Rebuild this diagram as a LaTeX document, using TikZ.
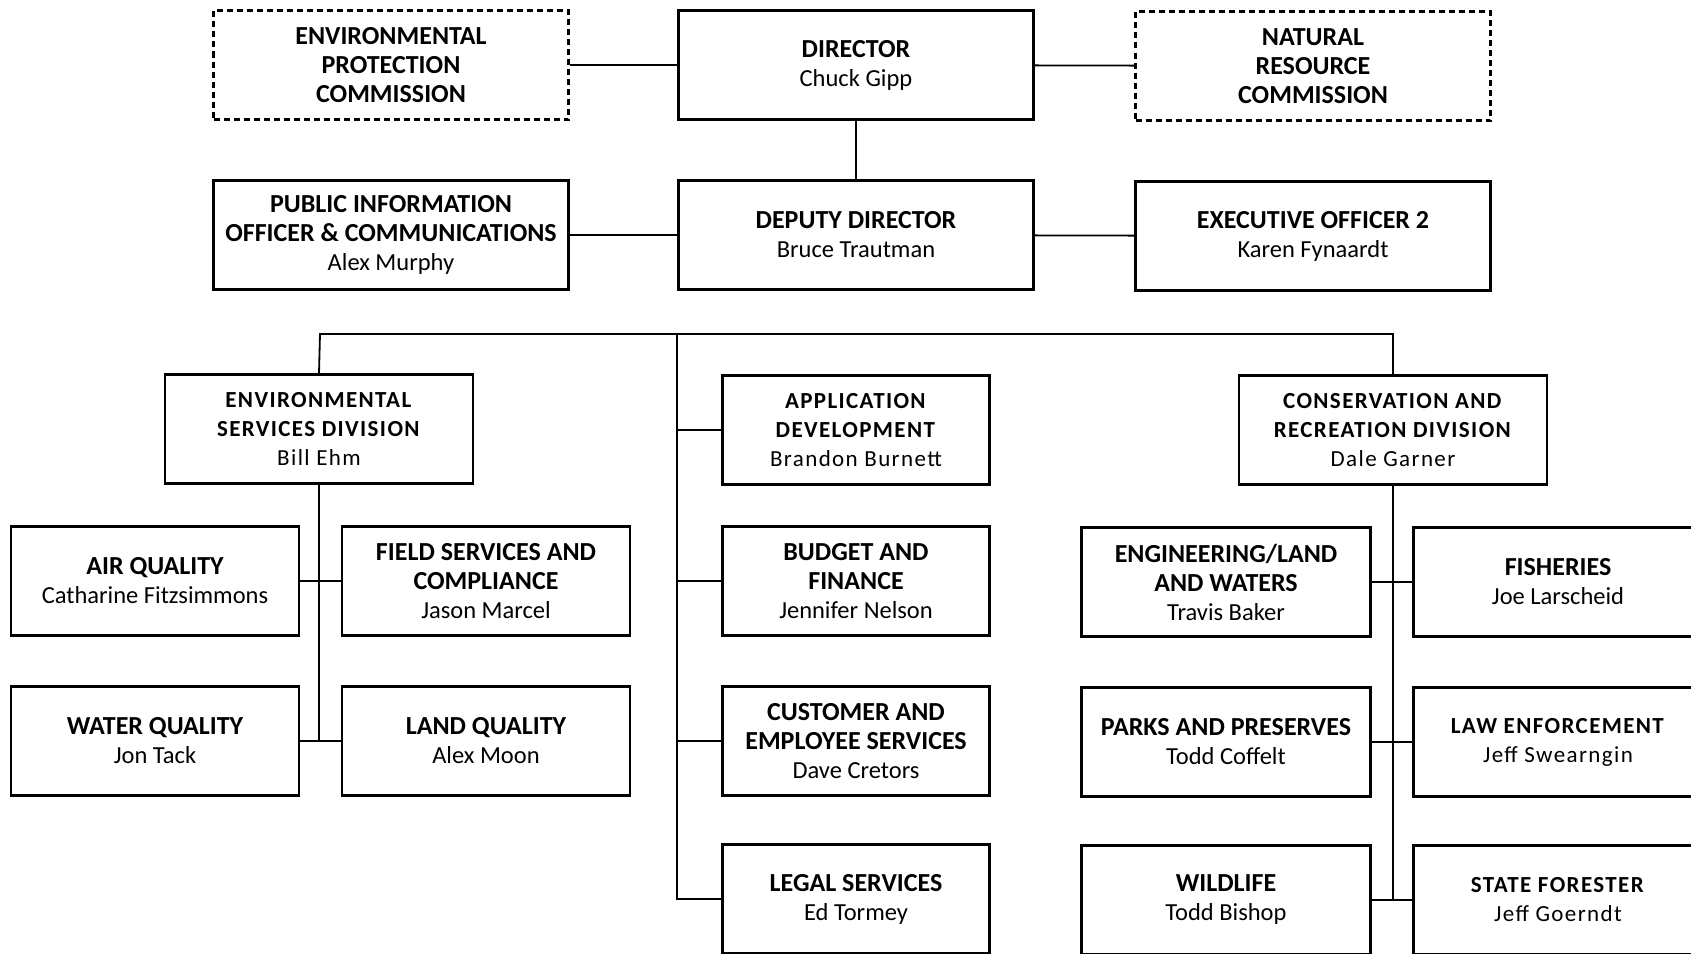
\documentclass[tikz,border=0pt]{standalone}
\usepackage{fontspec}
\setmainfont{Carlito}
\newfontfamily\widefont[LetterSpace=6]{Carlito}
\newcommand\hd[1]{{\fontsize{26}{29}\selectfont\bfseries #1}}

\tikzset{
  box/.style={draw, line width=2.5pt, minimum width=#1, minimum height=109pt,
    inner sep=0pt, align=center, font=\fontsize{24.5}{29}\selectfont},
  box/.default=355pt,
  dbox/.style={box, dash pattern=on 6pt off 4pt},
  widebox/.style={box=#1, font=\fontsize{23}{29}\selectfont\widefont},
  link/.style={line width=1.8pt},
}

\begin{document}
\begin{tikzpicture}[x=1pt,y=-1pt]
	\clip (0,0) rectangle (1691,953);
	\useasboundingbox (0,0) rectangle (1691,953);
	% top level
	\node[dbox] (epc) at (391,65) {\hd{ENVIRONMENTAL}\\\hd{PROTECTION}\\\hd{COMMISSION}};
	\node[box] (dir) at (856,65) {\hd{DIRECTOR}\\Chuck Gipp};
	\node[dbox] (nrc) at (1313,66) {\hd{NATURAL}\\\hd{RESOURCE}\\\hd{COMMISSION}};
	\node[box] (pio) at (391,235) {\hd{PUBLIC INFORMATION}\\\hd{OFFICER \& COMMUNICATIONS}\\Alex Murphy};
	\node[box] (dep) at (856,235) {\hd{DEPUTY DIRECTOR}\\Bruce Trautman};
	\node[box] (eo) at (1313,236) {\hd{EXECUTIVE OFFICER 2}\\Karen Fynaardt};
	% divisions
	\node[widebox=308pt] (esd) at (319,429) {\textbf{ENVIRONMENTAL}\\\textbf{SERVICES DIVISION}\\Bill Ehm};
	\node[widebox=267pt] (app) at (856,430) {\textbf{APPLICATION}\\\textbf{DEVELOPMENT}\\Brandon Burnett};
	\node[widebox=308pt] (crd) at (1393,430) {\textbf{CONSERVATION AND}\\\textbf{RECREATION DIVISION}\\Dale Garner};
	% environmental services
	\node[box=288pt] (air) at (155,581) {\hd{AIR QUALITY}\\Catharine Fitzsimmons};
	\node[box=288pt] (field) at (486,581) {\hd{FIELD SERVICES AND}\\\hd{COMPLIANCE}\\Jason Marcel};
	\node[box=288pt] (water) at (155,741) {\hd{WATER QUALITY}\\Jon Tack};
	\node[box=288pt] (land) at (486,741) {\hd{LAND QUALITY}\\Alex Moon};
	% staff
	\node[box=267pt] (budget) at (856,581) {\hd{BUDGET AND}\\\hd{FINANCE}\\Jennifer Nelson};
	\node[box=267pt] (cust) at (856,741) {\hd{CUSTOMER AND}\\\hd{EMPLOYEE SERVICES}\\Dave Cretors};
	\node[box=267pt] (legal) at (856,899) {\hd{LEGAL SERVICES}\\Ed Tormey};
	% conservation and recreation
	\node[box=289pt] (eng) at (1226,582) {\hd{ENGINEERING/LAND}\\\hd{AND WATERS}\\Travis Baker};
	\node[box=289pt] (fish) at (1558,582) {\hd{FISHERIES}\\Joe Larscheid};
	\node[box=289pt] (parks) at (1226,742) {\hd{PARKS AND PRESERVES}\\Todd Coffelt};
	\node[widebox=289pt] (law) at (1558,742) {\textbf{LAW ENFORCEMENT}\\Jeff Swearngin};
	\node[box=289pt] (wild) at (1226,900) {\hd{WILDLIFE}\\Todd Bishop};
	\node[widebox=289pt] (forest) at (1558,900) {\textbf{STATE FORESTER}\\Jeff Goerndt};

	\draw[link] (epc) -- (dir);
	\draw[link] (dir) -- (nrc);
	\draw[link] (dir) -- (dep);
	\draw[link] (pio) -- (dep);
	\draw[link] (dep) -- (eo);

	\coordinate (busl) at (320,334);
	\coordinate (busm) at (677,334);
	\draw[link] (esd.north) -- (busl) -| (crd.north);
	\draw[link] (busm) |- (legal.west);
	\foreach \n in {app,budget,cust}
		\draw[link] (busm |- \n.west) -- (\n.west);

	\draw[link] (esd.south) -- (esd.south |- water.east);
	\draw[link] (air) -- (field);
	\draw[link] (water) -- (land);

	\draw[link] (crd.south) -- (crd.south |- wild.east);
	\draw[link] (eng) -- (fish);
	\draw[link] (parks) -- (law);
	\draw[link] (wild) -- (forest);
\end{tikzpicture}
\end{document}
